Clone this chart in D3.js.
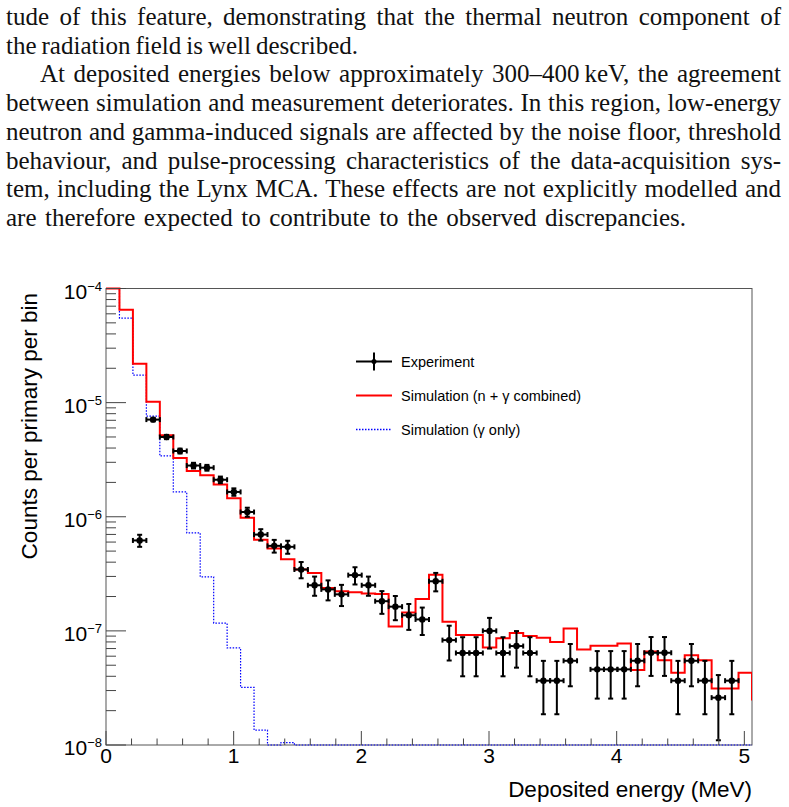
<!DOCTYPE html>
<html>
<head>
<meta charset="utf-8">
<script src="https://cdn.jsdelivr.net/npm/d3@7"></script>
<style>
  body { margin: 0; background: #fff; }
  svg { display: block; }
</style>
</head>
<body>
<svg id="page" width="789" height="807"></svg>
<script>

//text of the page above the figure, one entry per printed line
const textLines = [
  "tude of this feature, demonstrating that the thermal neutron component of",
  "the radiation field is well described.",
  "At deposited energies below approximately 300\u2013400\u2009keV, the agreement",
  "between simulation and measurement deteriorates. In this region, low-energy",
  "neutron and gamma-induced signals are affected by the noise floor, threshold",
  "behaviour, and pulse-processing characteristics of the data-acquisition sys-",
  "tem, including the Lynx MCA. These effects are not explicitly modelled and",
  "are therefore expected to contribute to the observed discrepancies."
]
//line numbers that open / close a paragraph
const paraStarts = [2]
const paraEnds = [1, 7]

//histogram binning, deposited energy in MeV
const nBins = 48
const eMax = 5.06

//simulation n + gamma, per bin (last entry is the bin just past the axis end)
const simCombined = [
  1.1e-4, 6.5e-5, 2.19e-5, 1.02e-5, 5.17e-6, 3.27e-6, 2.52e-6, 2.31e-6, 1.92e-6, 1.45e-6,
  9.8e-7, 6.3e-7, 5.27e-7, 4.25e-7, 3.45e-7, 3.22e-7, 2.38e-7, 2.22e-7, 2.18e-7, 2.13e-7,
  2.1e-7, 1.09e-7, 1.45e-7, 1.9e-7, 3.1e-7, 1.2e-7, 9.2e-8, 9.2e-8, 7.16e-8, 8.6e-8,
  9.6e-8, 9.0e-8, 8.7e-8, 8.0e-8, 1.05e-7, 6.87e-8, 7.4e-8, 7.4e-8, 7.76e-8, 4.54e-8,
  6.6e-8, 5.54e-8, 4.3e-8, 6.1e-8, 5.54e-8, 3.13e-8, 3.13e-8, 4.3e-8, 2.5e-8
]

//simulation gamma only, per bin
const simGamma = [
  1.1e-4, 5.5e-5, 1.74e-5, 7.63e-6, 3.41e-6, 1.65e-6, 7.22e-7, 2.97e-7, 1.17e-7, 7.1e-8,
  3.2e-8, 1.35e-8, 0, 1.05e-8, 0, 0, 0, 0, 0, 0,
  0, 0, 0, 0, 0, 0, 0, 0, 0, 0,
  0, 0, 0, 0, 0, 0, 0, 0, 0, 0,
  0, 0, 0, 0, 0, 0, 0, 0
]

//measured spectrum, null = empty bin
const expValues = [
  null, null, 6.2e-7, 7.1e-6, 5.0e-6, 3.77e-6, 2.81e-6, 2.69e-6, 2.11e-6, 1.65e-6,
  1.1e-6, 6.98e-7, 5.56e-7, 5.45e-7, 3.45e-7, 2.51e-7, 2.31e-7, 2.09e-7, 3.08e-7, 2.51e-7,
  1.82e-7, 1.63e-7, 1.37e-7, 1.26e-7, 2.72e-7, 8.3e-8, 6.4e-8, 6.4e-8, 1.0e-7, 6.4e-8,
  7.36e-8, 6.4e-8, 3.66e-8, 3.66e-8, 5.47e-8, null, 4.6e-8, 4.6e-8, 4.6e-8, 5.47e-8,
  6.43e-8, 6.43e-8, 3.66e-8, 5.47e-8, 3.66e-8, 2.6e-8, 3.66e-8, null
]
const expErrors = [
  null, null, 7.5e-8, 2.55e-7, 2.14e-7, 1.86e-7, 1.6e-7, 1.57e-7, 1.39e-7, 1.23e-7,
  1.0e-7, 8.0e-8, 7.1e-8, 7.1e-8, 5.6e-8, 4.8e-8, 4.6e-8, 4.4e-8, 5.3e-8, 4.8e-8,
  4.1e-8, 3.9e-8, 3.5e-8, 3.4e-8, 5.0e-8, 2.8e-8, 2.4e-8, 2.4e-8, 3.0e-8, 2.4e-8,
  2.6e-8, 2.4e-8, 1.8e-8, 1.8e-8, 2.2e-8, null, 2.05e-8, 2.05e-8, 2.05e-8, 2.2e-8,
  2.4e-8, 2.4e-8, 1.8e-8, 2.2e-8, 1.8e-8, 1.5e-8, 1.8e-8, null
]

//axis ticks
const xMajorTicks = [0, 1, 2, 3, 4, 5]
const yDecades = [-8, -7, -6, -5, -4]

const legendItems = [
  { label: "Experiment", kind: "exp" },
  { label: "Simulation (n + \u03b3 combined)", kind: "comb" },
  { label: "Simulation (\u03b3 only)", kind: "gamma" }
]

const sansFont = "'Liberation Sans', Arial, Helvetica, sans-serif"
const serifFont = "'Liberation Serif', 'Times New Roman', serif"

const page = d3.select('#page')

//paragraph, justified like the latex page
function drawParagraph(){

  const leftX = 6, rightX = 781, indentX = 40
  const firstBase = 25, lineGap = 28.7
  //where the last line of each paragraph stops on the page
  const shortEnds = { 1: 358, 7: 686 }

  textLines.forEach(function (line, i) {

    const x0 = paraStarts.includes(i) ? indentX : leftX
    const x1 = paraEnds.includes(i) ? shortEnds[i] : rightX

    const t = page.append("text")
      .attr("x", x0)
      .attr("y", firstBase + i * lineGap)
      .style("font-family", serifFont)
      .style("font-size", "25px")
      .style("fill", "#111")
      .text(line)

    const natural = t.node().getComputedTextLength()
    const spaces = (line.match(/ /g) || []).length
    t.style("word-spacing", ((x1 - x0 - natural) / spaces) + "px")
  })
}

const dims = { left: 106, top: 288.5, right: 752, bottom: 745 }

const x = d3.scaleLinear().domain([0, eMax]).range([dims.left, dims.right])
const y = d3.scaleLog().domain([1e-8, 1e-4]).range([dims.bottom, dims.top])

const binW = eMax / nBins
const edge = i => x(i * binW)

//log scale cannot show zero, root puts such bins on the frame bottom
const yc = v => y(Math.min(1e-4, Math.max(1e-8, v || 1e-8)))

//step outline of a histogram
function stepLine(values){
  let pts = []
  values.forEach(function (v, i) {
    pts.push([edge(i), yc(v)])
    pts.push([edge(i + 1), yc(v)])
  })
  return d3.line()(pts)
}

function drawFrame(){

  page.append("clipPath").attr("id", "frameClip")
    .append("rect")
      .attr("x", dims.left)
      .attr("y", dims.top - 2)
      .attr("width", dims.right - dims.left)
      .attr("height", dims.bottom - dims.top + 4)

  page.append("rect")
    .attr("x", dims.left)
    .attr("y", dims.top)
    .attr("width", dims.right - dims.left)
    .attr("height", dims.bottom - dims.top)
    .attr("fill", "none")
    .attr("stroke", "#555")
    .attr("stroke-width", 1)
}

function drawAxes(){

  const ax = page.append("g").attr("stroke", "#444").attr("stroke-width", 1)

  //x ticks, every 0.2 MeV
  d3.range(0, 5.01, 0.2).forEach(function (e) {
    const major = Math.abs(e - Math.round(e)) < 1e-6
    ax.append("line")
      .attr("x1", x(e)).attr("x2", x(e))
      .attr("y1", dims.bottom).attr("y2", dims.bottom - (major ? 14 : 6.5))
  })

  page.selectAll(".xlab")
    .data(xMajorTicks)
    .enter().append("text")
      .attr("class", "xlab")
      .attr("x", d => x(d))
      .attr("y", dims.bottom + 18)
      .attr("text-anchor", "middle")
      .style("font-family", sansFont)
      .style("font-size", "21px")
      .text(d => d)

  //y ticks, decades and 2..9
  yDecades.forEach(function (p) {
    ax.append("line")
      .attr("x1", dims.left).attr("x2", dims.left + 20)
      .attr("y1", y(Math.pow(10, p))).attr("y2", y(Math.pow(10, p)))
    if (p < -4) {
      d3.range(2, 10).forEach(function (m) {
        const yy = y(m * Math.pow(10, p))
        ax.append("line")
          .attr("x1", dims.left).attr("x2", dims.left + 10)
          .attr("y1", yy).attr("y2", yy)
      })
    }

    const t = page.append("text")
      .attr("x", dims.left - 4)
      .attr("y", y(Math.pow(10, p)) + 10)
      .attr("text-anchor", "end")
      .style("font-family", sansFont)
      .style("font-size", "21px")
    t.append("tspan").text("10")
    t.append("tspan")
      .attr("dy", -8)
      .style("font-size", "13px")
      .text("\u2212" + Math.abs(p))
  })

  page.append("text")
    .attr("x", dims.right)
    .attr("y", 797)
    .attr("text-anchor", "end")
    .style("font-family", sansFont)
    .style("font-size", "22.5px")
    .text("Deposited energy (MeV)")

  page.append("text")
    .attr("transform", "translate(37,293) rotate(-90)")
    .attr("text-anchor", "end")
    .style("font-family", sansFont)
    .style("font-size", "22.5px")
    .text("Counts per primary per bin")
}

function drawHists(){

  const g = page.append("g").attr("clip-path", "url(#frameClip)")

  g.append("path")
    .attr("d", stepLine(simGamma))
    .attr("fill", "none")
    .attr("stroke", "#0000ff")
    .attr("stroke-width", 1.2)
    .attr("stroke-dasharray", "1.5,1.5")

  g.append("path")
    .attr("d", stepLine(simCombined))
    .attr("fill", "none")
    .attr("stroke", "#ff0000")
    .attr("stroke-width", 2)
}

//points with bin-wide x bars and statistical y bars, capped
function drawExperiment(){

  const g = page.append("g").attr("stroke", "#000").attr("stroke-width", 2)
  const cap = 2.5

  expValues.forEach(function (v, i) {
    if (v === null) return
    const cx = x((i + 0.5) * binW)
    const cy = y(v)
    const x0 = edge(i), x1 = edge(i + 1)
    const yHi = yc(v + expErrors[i]), yLo = yc(v - expErrors[i])

    g.append("line").attr("x1", x0).attr("x2", x1).attr("y1", cy).attr("y2", cy)
    g.append("line").attr("x1", cx).attr("x2", cx).attr("y1", yHi).attr("y2", yLo)
    g.append("line").attr("x1", x0).attr("x2", x0).attr("y1", cy - cap).attr("y2", cy + cap)
    g.append("line").attr("x1", x1).attr("x2", x1).attr("y1", cy - cap).attr("y2", cy + cap)
    g.append("line").attr("x1", cx - cap).attr("x2", cx + cap).attr("y1", yHi).attr("y2", yHi)
    g.append("line").attr("x1", cx - cap).attr("x2", cx + cap).attr("y1", yLo).attr("y2", yLo)

    g.append("circle")
      .attr("cx", cx).attr("cy", cy).attr("r", 3.2)
      .attr("fill", "#000").attr("stroke", "none")
  })
}

function drawLegend(){

  const lx0 = 356, lx1 = 392, top = 361.5, gap = 34

  legendItems.forEach(function (item, i) {
    const yy = top + i * gap
    const g = page.append("g")

    if (item.kind === "exp") {
      g.append("line").attr("x1", lx0).attr("x2", lx1).attr("y1", yy).attr("y2", yy)
        .attr("stroke", "#000").attr("stroke-width", 2)
      g.append("line").attr("x1", (lx0 + lx1) / 2).attr("x2", (lx0 + lx1) / 2)
        .attr("y1", yy - 9).attr("y2", yy + 9)
        .attr("stroke", "#000").attr("stroke-width", 2)
      g.append("circle").attr("cx", (lx0 + lx1) / 2).attr("cy", yy).attr("r", 2.5)
    } else if (item.kind === "comb") {
      g.append("line").attr("x1", lx0).attr("x2", lx1).attr("y1", yy).attr("y2", yy)
        .attr("stroke", "#ff0000").attr("stroke-width", 2)
    } else {
      g.append("line").attr("x1", lx0).attr("x2", lx1).attr("y1", yy).attr("y2", yy)
        .attr("stroke", "#0000ff").attr("stroke-width", 1.5)
        .attr("stroke-dasharray", "1.5,1.5")
    }

    g.append("text")
      .attr("x", 401)
      .attr("y", yy + 5)
      .style("font-family", sansFont)
      .style("font-size", "14.5px")
      .text(item.label)
  })
}

drawParagraph()
drawFrame()
drawHists()
drawExperiment()
drawAxes()
drawLegend()

</script>
</body>
</html>
